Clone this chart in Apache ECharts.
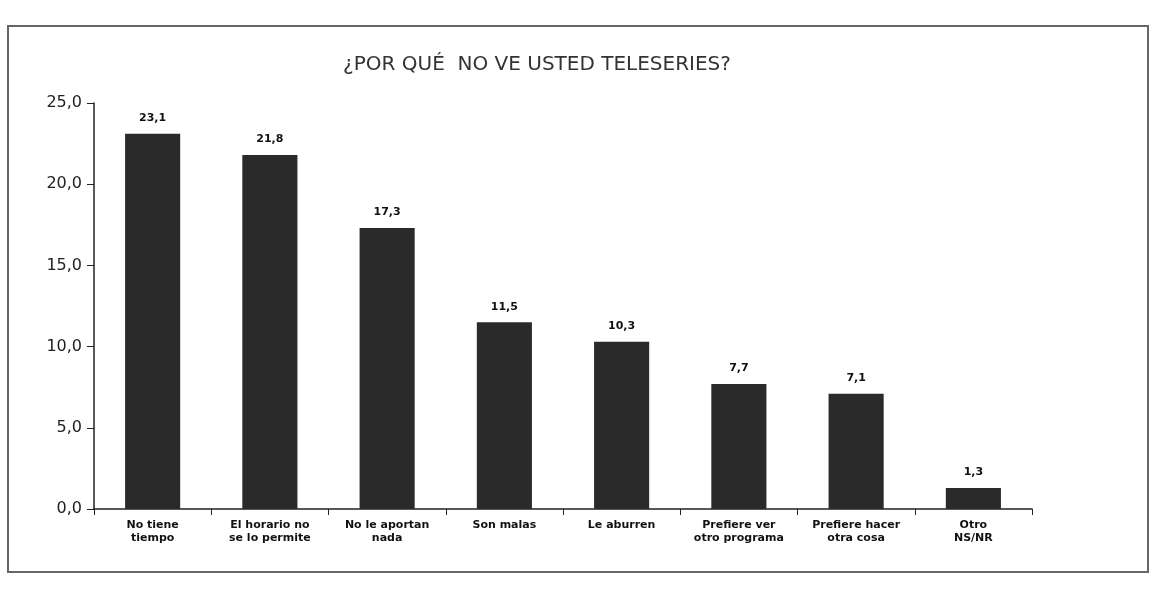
<!DOCTYPE html>
<html>
<head>
<meta charset="utf-8">
<script src="https://cdn.jsdelivr.net/npm/echarts@6/dist/echarts.min.js"></script>
<style>
  html, body { margin: 0; padding: 0; background: #fff; }
  #chart { width: 1153px; height: 590px; }
</style>
</head>
<body>
<div id="chart"></div>
<script>
var categories = [
  'No tiene\ntiempo',
  'El horario no\nse lo permite',
  'No le aportan\nnada',
  'Son malas',
  'Le aburren',
  'Prefiere ver\notro programa',
  'Prefiere hacer\notra cosa',
  'Otro\nNS/NR'
];
var values = [23.1, 21.8, 17.3, 11.5, 10.3, 7.7, 7.1, 1.3];
var yTicks = [0, 5, 10, 15, 20, 25];

function coma(v, d) {
  return Number(v).toFixed(d).replace('.', ',');
}

var myChart = echarts.init(document.getElementById('chart'));
myChart.setOption({
  animation: false,
  backgroundColor: '#fff',
  textStyle: { fontFamily: 'DejaVu Sans' },
  title: {
    text: '¿POR QUÉ  NO VE USTED TELESERIES?',
    left: 532,
    top: 50,
    textAlign: 'center',
    textStyle: { fontSize: 20, fontWeight: 'normal', color: '#333' }
  },
  graphic: [
    {
      type: 'rect',
      shape: { x: 8, y: 26, width: 1140, height: 546 },
      style: { fill: 'none', stroke: '#666', lineWidth: 2 }
    }
  ],
  grid: { left: 94, right: 121, top: 103, bottom: 81 },
  xAxis: {
    type: 'category',
    data: categories,
    axisLine: { lineStyle: { color: '#222', width: 1.5 } },
    axisTick: { show: true, length: 6, lineStyle: { color: '#222' } },
    axisLabel: {
      interval: 0,
      color: '#111',
      fontSize: 11,
      fontWeight: 'bold',
      lineHeight: 13,
      margin: 10
    }
  },
  yAxis: {
    type: 'value',
    min: yTicks[0],
    max: yTicks[yTicks.length - 1],
    interval: 5,
    splitLine: { show: false },
    axisLine: { show: true, lineStyle: { color: '#222', width: 1.5 } },
    axisTick: { show: true, length: 7, lineStyle: { color: '#222' } },
    axisLabel: {
      color: '#222',
      fontSize: 16,
      margin: 12,
      formatter: function (v) { return coma(v, 1); }
    }
  },
  series: [
    {
      type: 'bar',
      data: values,
      barWidth: '47%',
      itemStyle: { color: '#2a2a2a' },
      label: {
        show: true,
        position: 'top',
        distance: 10,
        color: '#111',
        fontSize: 11,
        fontWeight: 'bold',
        formatter: function (p) { return coma(p.value, 1); }
      }
    }
  ]
});
</script>
</body>
</html>
